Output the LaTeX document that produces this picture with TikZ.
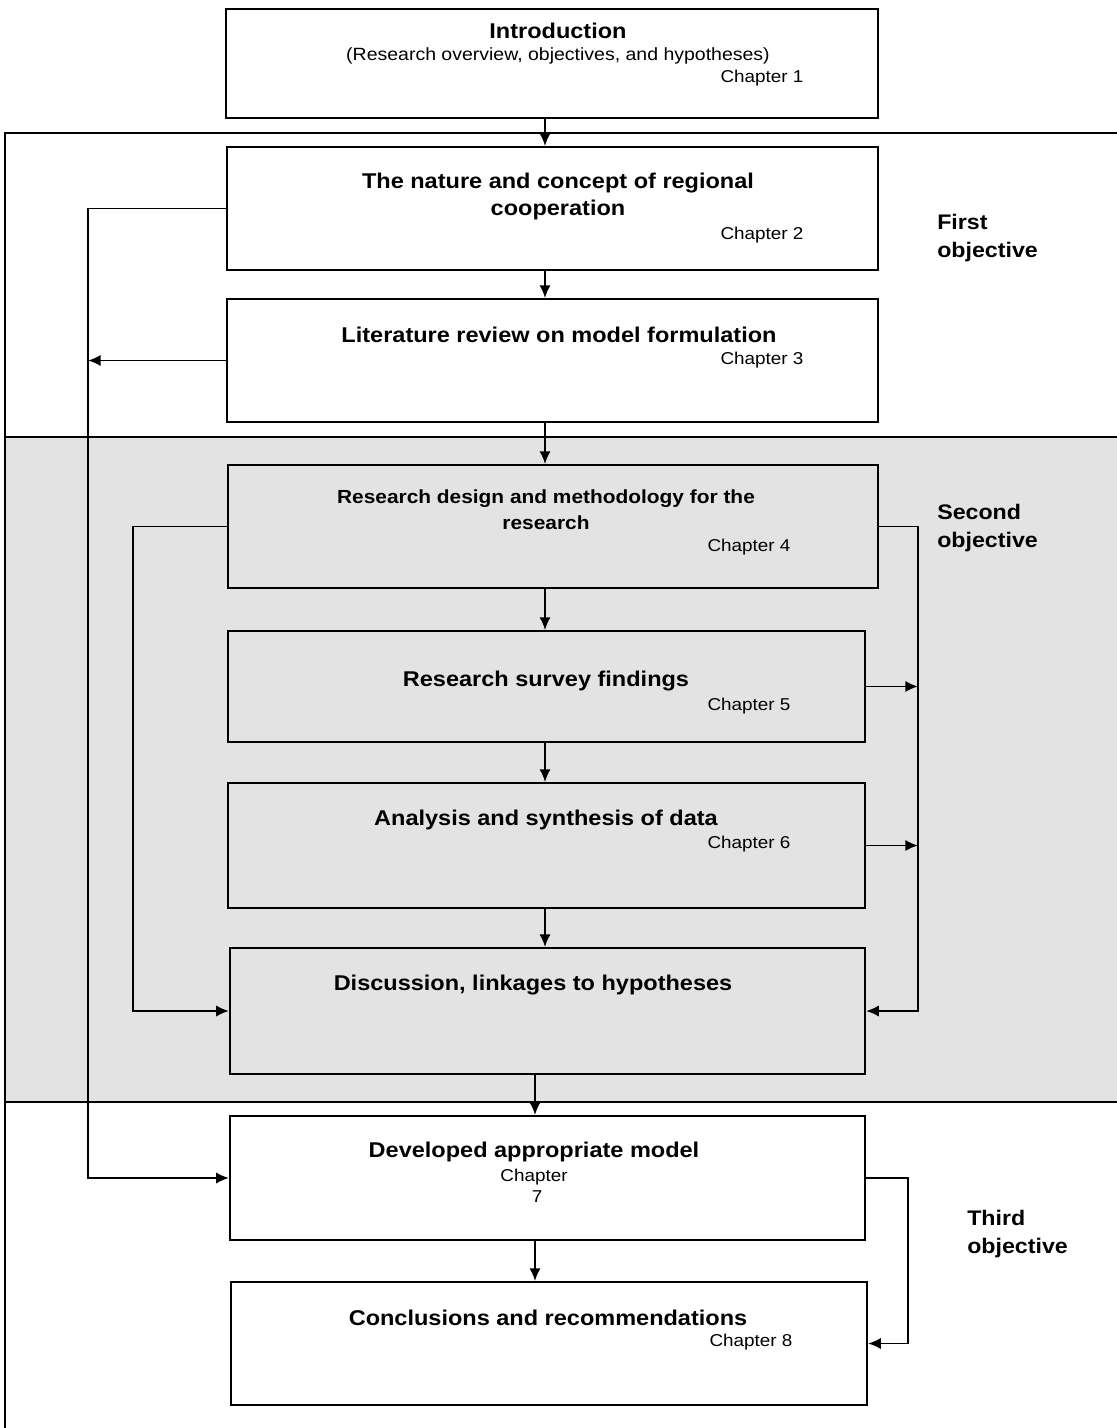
\documentclass[tikz,border=0pt]{standalone}
\usepackage{fontspec}
\setmainfont{Liberation Sans}[FakeStretch=1.1]
\usepackage{tikz}
\usetikzlibrary{positioning,arrows.meta}

\tikzset{
  chbox/.style={draw, line width=1.5pt, inner sep=0pt},
  head/.style={font=\fontsize{15.2}{18}\selectfont\bfseries, inner sep=0pt},
  smallhead/.style={font=\fontsize{13.5}{16}\selectfont\bfseries, inner sep=0pt},
  sub/.style={font=\fontsize{12.6}{14}\selectfont, inner sep=0pt},
  chap/.style={font=\fontsize{12.2}{14}\selectfont, inner sep=0pt},
  objlabel/.style={font=\fontsize{15}{20}\selectfont\bfseries, align=left, anchor=west, inner sep=0pt},
  frame/.style={line width=1.4pt},
  link/.style={line width=1.3pt}
}

\begin{document}
\begin{tikzpicture}[x=0.025cm, y=-0.025cm, >={Latex[length=9pt,width=8pt]}]

\useasboundingbox (0,0) rectangle (1117,1428);

% shaded band of the second objective
\fill [black!11] (5,437) rectangle (1117,1102);
\draw [frame] (1117,133) -- (5,133) -- (5,1428);
\draw [frame] (5,437) -- (1117,437);
\draw [frame] (5,1102) -- (1117,1102);

% chapter boxes
\node (b1) [chbox, minimum width=16.3cm, minimum height=2.725cm] at (552,63.5) {};
\node (b2) [chbox, minimum width=16.275cm, minimum height=3.075cm] at (552.5,208.5) {};
\node (b3) [chbox, minimum width=16.275cm, minimum height=3.075cm] at (552.5,360.5) {};
\node (b4) [chbox, minimum width=16.25cm, minimum height=3.075cm] at (553,526.5) {};
\node (b5) [chbox, minimum width=15.925cm, minimum height=2.775cm] at (546.5,686.5) {};
\node (b6) [chbox, minimum width=15.925cm, minimum height=3.125cm] at (546.5,845.5) {};
\node (b7) [chbox, minimum width=15.875cm, minimum height=3.15cm] at (547.5,1011) {};
\node (b8) [chbox, minimum width=15.875cm, minimum height=3.1cm] at (547.5,1178) {};
\node (b9) [chbox, minimum width=15.9cm, minimum height=3.075cm] at (549,1343.5) {};

% texts
\node (t1) [head] at (558,31) {Introduction};
\node (s1) [sub] at (558,56) {(Research overview, objectives, and hypotheses)};
\node (c1) [chap] at (762,78) {Chapter 1};

\node (t2) [head] at (558,183) {The nature and concept of regional};
\node (t2b) [head] at (558,210) {cooperation};
\node (c2) [chap] at (762,235) {Chapter 2};

\node (t3) [head] at (559,335) {Literature review on model formulation};
\node (c3) [chap] at (762,360) {Chapter 3};

\node (t4) [smallhead] at (546,499) {Research design and methodology for the};
\node (t4b) [smallhead] at (546,523) {research};
\node (c4) [chap] at (749,547) {Chapter 4};

\node (t5) [head] at (546,681) {Research survey findings};
\node (c5) [chap] at (749,706) {Chapter 5};

\node (t6) [head] at (546,820) {Analysis and synthesis of data};
\node (c6) [chap] at (749,844) {Chapter 6};

\node (t7) [head] at (533,985) {Discussion, linkages to hypotheses};

\node (t8) [head] at (534,1152) {Developed appropriate model};
\node (c8) [chap] at (534,1177) {Chapter};
\node (c8b) [chap] at (537,1197) {7};

\node (t9) [head] at (548,1318) {Conclusions and recommendations};
\node (c9) [chap] at (751,1342) {Chapter 8};

\node (o1) [objlabel] at (937,238) {First\\objective};
\node (o2) [objlabel] at (937,528) {Second\\objective};
\node (o3) [objlabel] at (967,1234) {Third\\objective};

% side rails
\coordinate (lx) at (88,0);
\coordinate (lx2) at (133,0);
\coordinate (rx) at (918,0);
\coordinate (rx3) at (908,0);

% main flow
\draw [link,->] (b1.south -| 545,0) -- (b2.north -| 545,0);
\draw [link,->] (b2.south -| 545,0) -- (b3.north -| 545,0);
\draw [link,->] (b3.south -| 545,0) -- (b4.north -| 545,0);
\draw [link,->] (b4.south -| 545,0) -- (b5.north -| 545,0);
\draw [link,->] (b5.south -| 545,0) -- (b6.north -| 545,0);
\draw [link,->] (b6.south -| 545,0) -- (b7.north -| 545,0);
\draw [link,->] (b7.south -| 535,0) -- (b8.north -| 535,0);
\draw [link,->] (b8.south -| 535,0) -- (b9.north -| 535,0);

% loops
\draw [link,->] (b2.west) -- (b2.west -| lx) |- (b8.west);
\draw [link,->] (b3.west) -- (b3.west -| lx);
\draw [link,->] (b4.west) -- (b4.west -| lx2) |- (b7.west);
\draw [link,->] (b4.east) -- (b4.east -| rx) |- (b7.east);
\draw [link,->] (b5.east) -- (b5.east -| rx);
\draw [link,->] (b6.east) -- (b6.east -| rx);
\draw [link,->] (b8.east) -- (b8.east -| rx3) |- (b9.east);

\end{tikzpicture}
\end{document}
